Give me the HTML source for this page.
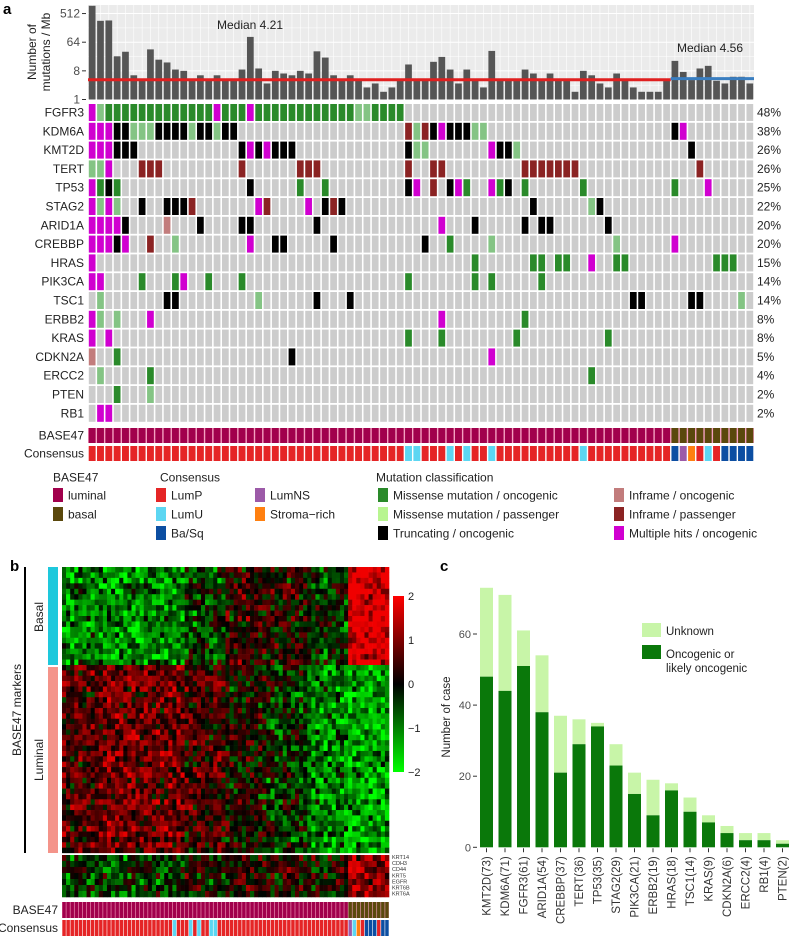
<!DOCTYPE html>
<html><head><meta charset="utf-8">
<style>
html,body{margin:0;padding:0;background:#fff;}
svg{display:block;font-family:"Liberation Sans",Arial,sans-serif;}
</style></head>
<body>
<svg id="fig" width="789" height="936" viewBox="0 0 789 936" xmlns="http://www.w3.org/2000/svg">
<g id="pa"></g>
<g id="pb"></g>
<g id="pc"></g>
</svg>
<script>
// ---------- Panel a data ----------
const tmbValues = [900,302,310,23,32,5.8,4.1,38,18,14.7,8.8,8,4.1,5.8,4.1,5.8,4.1,4.1,8.8,94,9.5,3.2,8,6.6,5.8,8,6.6,33,21,5.8,4.1,5.8,4.1,2.4,3.2,1.75,2.4,4.1,12.7,4.1,4.1,15.4,22,8.8,3.2,8.8,4.1,2.4,34,4.1,4.1,4.1,8.8,6.6,4.1,6.6,4.1,4.1,1.75,8,5.8,3.2,2.4,6.6,4.1,2.4,1.75,1.75,1.75,4.1,16.5,7.4,4.1,9.5,11.5,3.9,3.2,5.2,5.2,3.2];
const medianLuminal = 4.21;
const medianBasal = 4.56;
const yTicksA = [1,8,64,512];
const genes = ["FGFR3","KDM6A","KMT2D","TERT","TP53","STAG2","ARID1A","CREBBP","HRAS","PIK3CA","TSC1","ERBB2","KRAS","CDKN2A","ERCC2","PTEN","RB1"];
const genePct = ["48%","38%","26%","26%","25%","22%","20%","20%","15%","14%","14%","8%","8%","5%","4%","2%","2%"];
const geneMuts = [
"0:X,1:m,2-14:M,15:X,16-18:M,19:X,20-31:M,32-33:m,34-37:M",
"0-2:X,3-4:T,5-7:m,8-11:T,12:m,13-14:T,15:m,16-17:T,38:i,39:m,40:i,41:T,42:X,43-45:T,46-47:m,70:T,71:X",
"0-2:X,3-5:T,18:T,19:X,20:T,21:X,22-24:T,38:T,39-40:m,48:X,49-50:T,51:m,72:T",
"0-1:m,2:X,6-8:i,18:i,25-27:i,38:i,41-42:i,52-58:i,73:i",
"0:X,1:M,2:T,3:M,19:T,25:M,28:M,38:T,39:X,41:i,43:T,44:X,45:M,48:X,49:M,50:T,52:M,59:M,70:M,74:X",
"0:X,1:m,2:X,3:m,6:T,9-11:T,12:i,20:X,21:i,26:X,28:T,29:i,30:T,53:T,60:m,61:T",
"0-3:X,4:T,9:I,13:T,18-19:T,27:T,42:X,46:T,52:T,54-55:T,62:T",
"0-2:X,3:T,4:X,7:i,10:m,19:X,22-23:T,29:T,40:T,43:M,48:m,63:m,70:X",
"0:X,46:M,53-54:M,56-57:M,60:X,63-64:M,75-77:M",
"0-1:X,6:M,10:M,11:X,14:M,18:M,38:M,46:M,48:M,54:M",
"1:m,9-10:T,20:m,27:T,31:T,65-66:T,72-73:T,78:m",
"0:X,1:m,3:m,7:X,42:X,52:M",
"0:X,2:X,38:M,42:M,51:M,62:M",
"0:I,3:M,24:T,48:X",
"1:m,7:M,60:M",
"3:M,7:m",
"1-2:X"];
const base47A = "LLLLLLLLLLLLLLLLLLLLLLLLLLLLLLLLLLLLLLLLLLLLLLLLLLLLLLLLLLLLLLLLLLLLLLBBBBBBBBBB";
const consensusA = "PPPPPPPPPPPPPPPPPPPPPPPPPPPPPPPPPPPPPPUUPPPUPUPPUPPPPPPPPPPUPPPPPPPPPPBNSPUPBBBB";
// ---------- Panel b data ----------
const basalProfile = [-1.0,-1.1,-1.0,-0.4,0.3,0.2,-0.3,1.9];
const luminalProfile = [0.6,0.9,0.8,0.5,0.1,-0.3,-1.0,-1.3];
const lowerProfile = [-0.4,-0.5,-0.3,0.0,0.2,0.2,0.0,1.2];
const texture = [0.9,-0.7,0.3,-1.1,0.6,0.0,-0.4,1.2,-0.9,0.4,-0.2,0.8,-1.3,0.5,-0.6,1.0,-0.1];
const texture2 = [-0.5,0.7,0.1,-0.9,0.4,1.1,-0.3,-1.0,0.6,0.2,-0.6,0.9,-0.2];
const lowerGenes = ["KRT14","CDH3","CD44","KRT5","EGFR","KRT6B","KRT6A"];
const base47B = "LLLLLLLLLLLLLLLLLLLLLLLLLLLLLLLLLLLLLLLLLLLLLLLLLLLLLLLLLLLLLLLLLLLLLLBBBBBBBBBB";
const consensusB = "PPPPPPPPPPPPPPPPPPPPPPPPPPPUPPPUPUPPUUPPPPPPPPPPPPPPPPPPPPPPPPPPPPPPPPNUSPBBBPBB";
const cbTicks = [2,1,0,-1,-2];
// ---------- Panel c data ----------
const cGenes = ["KMT2D(73)","KDM6A(71)","FGFR3(61)","ARID1A(54)","CREBBP(37)","TERT(36)","TP53(35)","STAG2(29)","PIK3CA(21)","ERBB2(19)","HRAS(18)","TSC1(14)","KRAS(9)","CDKN2A(6)","ERCC2(4)","RB1(4)","PTEN(2)"];
const cTotal = [73,71,61,54,37,36,35,29,21,19,18,14,9,6,4,4,2];
const cOnco = [48,44,51,38,21,29,34,23,15,9,16,10,7,4,2,2,1];
const cTicks = [0,20,40,60];

const NS="http://www.w3.org/2000/svg";
function mk(parent,tag,attrs,text){const e=document.createElementNS(NS,tag);for(const k in attrs)e.setAttribute(k,attrs[k]);if(text!==undefined)e.textContent=text;parent.appendChild(e);return e;}
const mutColors={M:"#2a8a2a",m:"#84c484",T:"#000000",I:"#c27c7c",i:"#8b2323",X:"#d000d0"};
const conColors={P:"#e52526",U:"#5cd6f2",B:"#0c4ea2",N:"#9c5aa8",S:"#ff8010"};
const baseColors={L:"#a1004c",B:"#5a480c"};

// ===== Panel A =====
const pa=document.getElementById('pa');
const nCol=80, x0=88, x1=754, colW=(x1-x0)/nCol;
const colX=i=>x0+i*colW;
const yTop=5, yBase=99.5, pxPerLog=9.55;
const yA=v=>yBase-Math.log2(v)*pxPerLog;
let t=mk(pa,'text',{x:3,y:14,'font-size':15,'font-weight':'bold'},'a');


let bg=mk(pa,'rect',{x:x0,y:yTop,width:x1-x0,height:yBase-yTop,fill:'#ebebeb'});


for(let k=0;k<yTicksA.length;k++){
  const v=yTicksA[k];
  mk(pa,'line',{x1:x0,x2:x1,y1:yA(v),y2:yA(v),stroke:'#fff','stroke-width':1});
  if(k<yTicksA.length-1) mk(pa,'line',{x1:x0,x2:x1,y1:yA(v*Math.sqrt(8)),y2:yA(v*Math.sqrt(8)),stroke:'#fff','stroke-width':0.5});
  let tl=mk(pa,'text',{x:80,y:yA(v)+4,'font-size':12,fill:'#4d4d4d','text-anchor':'end'},String(v));
  
  
  mk(pa,'line',{x1:82,x2:86,y1:yA(v),y2:yA(v),stroke:'#333','stroke-width':1});
}
for(let i=0;i<nCol;i++) mk(pa,'line',{x1:colX(i)+colW/2,x2:colX(i)+colW/2,y1:yTop,y2:yBase,stroke:'#fff','stroke-width':0.6});
for(let i=0;i<nCol;i++){
  const v=tmbValues[i];const yy=Math.max(yTop,yA(v));
  let b=mk(pa,'rect',{x:colX(i)+0.8,y:yy,width:colW-1.6,height:yBase-yy,fill:'#555555'});
  
  
}
let ml=mk(pa,'line',{x1:x0,x2:colX(70),y1:yA(medianLuminal),y2:yA(medianLuminal),stroke:'#e02020','stroke-width':3});


let mb=mk(pa,'line',{x1:colX(70),x2:x1,y1:yA(medianBasal),y2:yA(medianBasal),stroke:'#3a7ec0','stroke-width':3});


t=mk(pa,'text',{x:250,y:29,'font-size':12,'text-anchor':'middle',fill:'#222'},'Median '+medianLuminal);


t=mk(pa,'text',{x:710,y:52,'font-size':12,'text-anchor':'middle',fill:'#222'},'Median '+medianBasal);


let yl=mk(pa,'text',{transform:'translate(36,52) rotate(-90)','font-size':12,'text-anchor':'middle',fill:'#222'},'Number of');


mk(pa,'text',{transform:'translate(50,52) rotate(-90)','font-size':12,'text-anchor':'middle',fill:'#222'},'mutations / Mb');

// oncoprint
const rowTop=104, rowPitch=18.8, rowH=17;
function parseMuts(s){const arr=new Array(nCol).fill('.');s.split(',').forEach(p=>{const [r,c]=p.split(':');const [a,b]=r.split('-').map(Number);for(let k=a;k<=(b===undefined?a:b);k++)arr[k]=c;});return arr;}
genes.forEach((g,r)=>{
  const y=rowTop+r*rowPitch;
  let gl=mk(pa,'text',{x:84,y:y+12.5,'font-size':12,'text-anchor':'end',fill:'#222'},g);
  
  
  let pl=mk(pa,'text',{x:757,y:y+12.5,'font-size':12,fill:'#222'},genePct[r]);
  
  
  const arr=parseMuts(geneMuts[r]);
  for(let i=0;i<nCol;i++){
    let c=mk(pa,'rect',{x:colX(i)+0.8,y:y,width:colW-1.6,height:rowH,fill:arr[i]==='.'?'#cccccc':mutColors[arr[i]]});
    
    
  }
});
function annoRow(g,str,colors,y,h,xs,w,gap,label,lx,fs){
  let l=mk(g,'text',{x:lx,y:y+h/2+4,'font-size':fs,'text-anchor':'end',fill:'#222'},label);
  
  
  for(let i=0;i<str.length;i++){
    let c=mk(g,'rect',{x:xs(i)+gap/2,y:y,width:w-gap,height:h,fill:colors[str[i]]});
    
    
  }
}
mk(pa,'rect',{x:x0,y:428,width:x1-x0,height:15,fill:'#f4a0c0'});
annoRow(pa,base47A,baseColors,428,15,colX,colW,1.4,'BASE47',84,12);
annoRow(pa,consensusA,conColors,446,15,colX,colW,1.4,'Consensus',84,12);

// legend
function legItem(g,x,y,color,label){
  let s=mk(g,'rect',{x:x,y:y,width:10,height:14,fill:color});
  
  
  let tt=mk(g,'text',{x:x+15,y:y+11.5,'font-size':12,fill:'#222'},label);
  
  
}
function legTitle(g,x,label){let tt=mk(g,'text',{x:x,y:481.5,'font-size':12,fill:'#222'},label);}
legTitle(pa,53,'BASE47');
legItem(pa,53,488,baseColors.L,'luminal');
legItem(pa,53,507,baseColors.B,'basal');
legTitle(pa,160,'Consensus');
legItem(pa,156,488,conColors.P,'LumP');
legItem(pa,156,507,conColors.U,'LumU');
legItem(pa,156,526,conColors.B,'Ba/Sq');
legItem(pa,255,488,conColors.N,'LumNS');
legItem(pa,255,507,conColors.S,'Stroma\u2212rich');
legTitle(pa,376,'Mutation classification');
legItem(pa,378,488,'#2a8a2a','Missense mutation / oncogenic');
legItem(pa,378,507,'#b8f590','Missense mutation / passenger');
legItem(pa,378,526,'#000','Truncating / oncogenic');
legItem(pa,614,488,'#c27c7c','Inframe / oncogenic');
legItem(pa,614,507,'#8b2323','Inframe / passenger');
legItem(pa,614,526,'#d000d0','Multiple hits / oncogenic');

// ===== Panel B =====
const pb=document.getElementById('pb');
t=mk(pb,'text',{x:10,y:571,'font-size':15,'font-weight':'bold'},'b');


const hx0=62,hx1=389,hw=(hx1-hx0)/80;
const hX=i=>hx0+i*hw;
function valColor(v){v=Math.max(-2,Math.min(2,v));if(v>=0){return 'rgb('+Math.round(v/2*240)+',0,0)';}return 'rgb(0,'+Math.round(-v/2*255)+',0)';}
function drawBlock(profile,nRows,y0,h,rowOff){
  for(let r=0;r<nRows;r++){for(let c=0;c<80;c++){
    const base=profile[Math.floor(c/10)];
    const rr=r+rowOff;
    const j1=texture[(rr*rr*3+c*c*5+rr*c*7+rr*11+c*3)%texture.length];
    const j2=texture2[(rr*5+c*c*2+rr*c+c*7)%texture2.length];
    const v=base+(j1+j2)*0.6;
    let cell=mk(pb,'rect',{x:hX(c),y:y0+r*h,width:hw+0.3,height:h+0.3,fill:valColor(v)});
    
    
  }}
}
drawBlock(basalProfile,18,567,98/18,0);
drawBlock(luminalProfile,35,665,188/35,18);
drawBlock(lowerProfile,7,855,42/7,53);
mk(pb,'line',{x1:hx0,x2:hx1,y1:854,y2:854,stroke:'#fff','stroke-width':1.5});
let sb=mk(pb,'rect',{x:48,y:567,width:10,height:98,fill:'#1ec8dc'});


sb=mk(pb,'rect',{x:48,y:667,width:10,height:186,fill:'#f4948a'});


mk(pb,'line',{x1:25,x2:25,y1:567,y2:853,stroke:'#000','stroke-width':2});
t=mk(pb,'text',{transform:'translate(21,710) rotate(-90)','font-size':12,'text-anchor':'middle',fill:'#222'},'BASE47 markers');


t=mk(pb,'text',{transform:'translate(43,617) rotate(-90)','font-size':12,'text-anchor':'middle',fill:'#222'},'Basal');


t=mk(pb,'text',{transform:'translate(43,760) rotate(-90)','font-size':12,'text-anchor':'middle',fill:'#222'},'Luminal');


lowerGenes.forEach((g,k)=>{let l=mk(pb,'text',{x:392,y:859+k*6.1,'font-size':5.5,fill:'#333'},g);});
// colorbar
const cbY=v=>684-v*44;
const grad=mk(pb,'defs',{});
const lg=mk(grad,'linearGradient',{id:'cbg',x1:0,y1:0,x2:0,y2:1});
mk(lg,'stop',{offset:'0','stop-color':'#ff0000'});
mk(lg,'stop',{offset:'0.5','stop-color':'#000000'});
mk(lg,'stop',{offset:'1','stop-color':'#00ff00'});
let cb=mk(pb,'rect',{x:393,y:cbY(2),width:11,height:cbY(-2)-cbY(2),fill:'url(#cbg)'});


cbTicks.forEach(v=>{let l=mk(pb,'text',{x:408,y:cbY(v)+4,'font-size':11,fill:'#222'},v<0?'\u2212'+(-v):String(v));});
mk(pb,'rect',{x:hx0,y:902,width:hx1-hx0,height:16,fill:'#f4a0c0'});
annoRow(pb,base47B,baseColors,902,16,hX,hw,0.6,'BASE47',58,12);
annoRow(pb,consensusB,conColors,920,16,hX,hw,0.6,'Consensus',58,12);

// ===== Panel C =====
const pc=document.getElementById('pc');
t=mk(pc,'text',{x:440,y:571,'font-size':15,'font-weight':'bold'},'c');


const cy0=847.3, cpx=3.555;
const yC=v=>cy0-v*cpx;
const xC=i=>480+i*18.5;
cTicks.forEach(v=>{
  let l=mk(pc,'text',{x:471,y:yC(v)+4,'font-size':11,fill:'#4d4d4d','text-anchor':'end'},String(v));
  
  
  mk(pc,'line',{x1:473,x2:477,y1:yC(v),y2:yC(v),stroke:'#333','stroke-width':1});
});
t=mk(pc,'text',{transform:'translate(450,717) rotate(-90)','font-size':11.5,'text-anchor':'middle',fill:'#222'},'Number of case');


cGenes.forEach((g,i)=>{
  let u=mk(pc,'rect',{x:xC(i),y:yC(cTotal[i]),width:13,height:yC(cOnco[i])-yC(cTotal[i]),fill:'#c8f5a8'});
  
  
  let o=mk(pc,'rect',{x:xC(i),y:yC(cOnco[i]),width:13,height:cy0-yC(cOnco[i]),fill:'#0a780a'});
  
  
  mk(pc,'line',{x1:xC(i)+6.5,x2:xC(i)+6.5,y1:cy0+1,y2:cy0+5,stroke:'#333','stroke-width':1});
  let l=mk(pc,'text',{transform:'translate('+(xC(i)+10.5)+','+(cy0+9)+') rotate(-90)','font-size':11.5,fill:'#333','text-anchor':'end'},g);
  
  
});
let s1=mk(pc,'rect',{x:642,y:623,width:19,height:14,fill:'#c8f5a8'});


t=mk(pc,'text',{x:666,y:635,'font-size':11.5,fill:'#222'},'Unknown');


let s2=mk(pc,'rect',{x:642,y:645,width:19,height:14,fill:'#0a780a'});


t=mk(pc,'text',{x:666,y:658,'font-size':11.5,fill:'#222'},'Oncogenic or');


mk(pc,'text',{x:666,y:672,'font-size':11.5,fill:'#222'},'likely oncogenic');
</script>
</body></html>
